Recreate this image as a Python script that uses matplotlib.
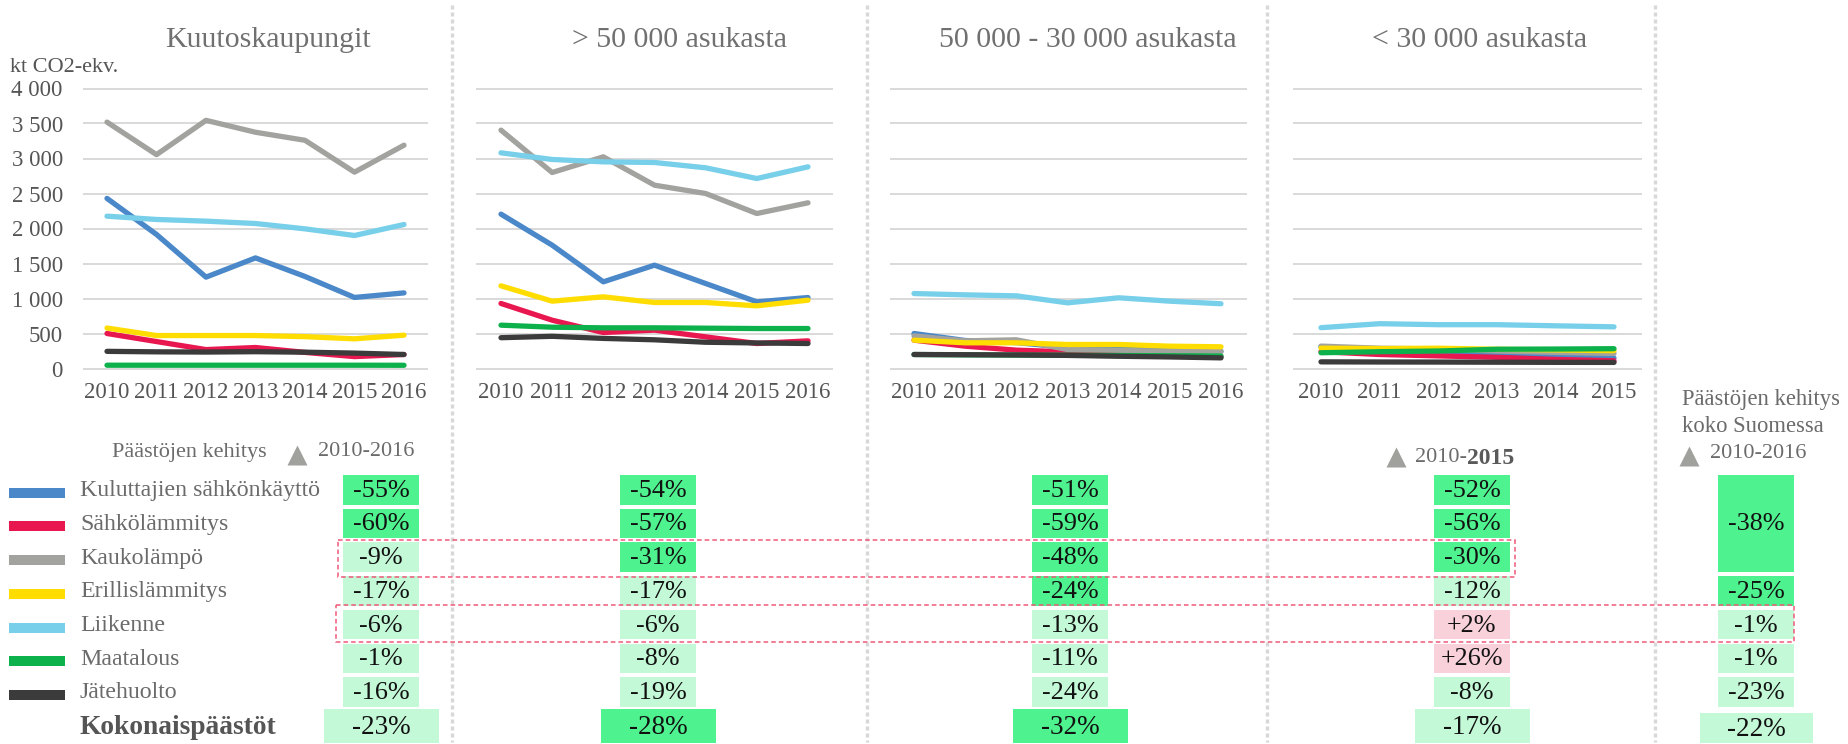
import numpy as np
import matplotlib
matplotlib.use("Agg")
import matplotlib.pyplot as plt
from matplotlib.patches import Rectangle

# ---------------- data ----------------
years_a = [2010, 2011, 2012, 2013, 2014, 2015, 2016]
years_b = [2010, 2011, 2012, 2013, 2014, 2015]

series = ["Kuluttajien sähkönkäyttö", "Sähkölämmitys", "Kaukolämpö",
          "Erillislämmitys", "Liikenne", "Maatalous", "Jätehuolto"]
total_label = "Kokonaispäästöt"

panel_titles = ["Kuutoskaupungit", "> 50 000 asukasta",
                "50 000 - 30 000 asukasta", "< 30 000 asukasta"]

# kt CO2-ekv., rows in series order
kuutos = [
    [2430, 1915, 1305, 1580, 1315, 1015, 1080],
    [500, 385, 270, 300, 230, 170, 200],
    [3520, 3055, 3545, 3375, 3260, 2805, 3190],
    [578, 471, 471, 471, 455, 424, 476],
    [2176, 2129, 2105, 2071, 1995, 1900, 2057],
    [47, 47, 47, 47, 47, 47, 46],
    [245, 238, 235, 240, 233, 220, 200],
]
over50k = [
    [2205, 1762, 1238, 1476, 1214, 952, 1014],
    [929, 690, 514, 548, 452, 357, 395],
    [3405, 2800, 3024, 2619, 2500, 2214, 2367],
    [1181, 962, 1024, 943, 943, 895, 976],
    [3081, 2986, 2952, 2943, 2867, 2714, 2881],
    [619, 590, 581, 581, 576, 571, 571],
    [440, 460, 430, 410, 375, 365, 357],
]
from30to50k = [
    [500, 400, 370, 300, 280, 260, 245],
    [405, 319, 262, 238, 233, 200, 170],
    [466, 395, 410, 271, 260, 245, 242],
    [405, 367, 367, 343, 343, 319, 310],
    [1071, 1052, 1038, 938, 1010, 962, 925],
    [200, 195, 192, 190, 185, 182, 178],
    [200, 197, 193, 187, 175, 165, 152],
]
under30k = [
    [310, 260, 230, 210, 180, 150],
    [240, 200, 180, 160, 130, 110],
    [320, 290, 280, 250, 230, 215],
    [290, 285, 290, 275, 265, 255],
    [583, 640, 626, 626, 610, 595],
    [225, 240, 250, 275, 278, 283],
    [95, 93, 92, 90, 88, 87],
]

# change tables (rows: series..., total); shade d=strong, l=light, p=increase
pct_kuutos = ["-55%", "-60%", "-9%", "-17%", "-6%", "-1%", "-16%", "-23%"]
shade_kuutos = ["d", "d", "l", "l", "l", "l", "l", "l"]
pct_over50k = ["-54%", "-57%", "-31%", "-17%", "-6%", "-8%", "-19%", "-28%"]
shade_over50k = ["d", "d", "d", "l", "l", "l", "l", "d"]
pct_30to50k = ["-51%", "-59%", "-48%", "-24%", "-13%", "-11%", "-24%", "-32%"]
shade_30to50k = ["d", "d", "d", "d", "l", "l", "l", "d"]
pct_under30k = ["-52%", "-56%", "-30%", "-12%", "+2%", "+26%", "-8%", "-17%"]
shade_under30k = ["d", "d", "d", "l", "p", "p", "l", "l"]
# whole Finland: first value covers the three first rows
pct_finland = ["-38%", "-25%", "-1%", "-1%", "-23%", "-22%"]
span_finland = [3, 1, 1, 1, 1, 1]
shade_finland = ["d", "d", "l", "l", "l", "l"]

# ---------------- style ----------------
colors = ["#4a88c9", "#e9174f", "#a2a29e", "#ffdd00", "#77cfe9", "#0db14b", "#3b3b3b"]
shade_col = {"d": "#4ef28e", "l": "#c4f9d8", "p": "#f9d1db"}
FONT = ["Liberation Serif", "DejaVu Serif"]
plt.rcParams["font.family"] = FONT
TXT = "#6b6b6b"
PCT_FS, TOT_FS = 18.8, 19.5

W, H = 1849, 744
fig = plt.figure(figsize=(W / 100, H / 100), dpi=100)

ov = fig.add_axes([0, 0, 1, 1], zorder=0)
ov.set_xlim(0, W)
ov.set_ylim(H, 0)
ov.axis("off")


def px_axes(x0, x1, ytop, ybot):
    return fig.add_axes([x0 / W, 1 - ybot / H, (x1 - x0) / W, (ybot - ytop) / H], zorder=2)


# (axes left, axes right, first point x, last point x)
layout = [(83, 428, 107, 404), (476, 833, 501, 808),
          (890, 1247, 914, 1221), (1293, 1642, 1321, 1614)]
title_x = [268, 680, 1088, 1480]
datasets = [(years_a, kuutos), (years_a, over50k), (years_a, from30to50k), (years_b, under30k)]

Y_TOP, Y_BOT = 88.5, 368.5
for i, ((x0, x1, f, l), (yrs, vals)) in enumerate(zip(layout, datasets)):
    ax = px_axes(x0, x1, Y_TOP, Y_BOT)
    ax.patch.set_alpha(0)
    n = len(yrs) - 1
    sp = (l - f) / n
    ax.set_xlim((x0 - f) / sp, n + (x1 - l) / sp)
    ax.set_ylim(0, 4000)
    for s in ax.spines.values():
        s.set_visible(False)
    grid = np.arange(0, 4001, 500)
    ax.hlines(grid, *ax.get_xlim(), color="#d9d9d9", lw=1.4, zorder=0, clip_on=False)
    for k in range(len(series)):
        ax.plot(range(len(yrs)), vals[k], color=colors[k], lw=3.8,
                solid_capstyle="round", solid_joinstyle="round", zorder=2 + k, clip_on=False)
    ax.set_xticks(range(len(yrs)), [str(y) for y in yrs])
    ax.tick_params(axis="x", length=0, pad=10, labelsize=16.5, labelcolor="#555555")
    if i == 0:
        ax.set_yticks(grid, [f"{v:,}".replace(",", " ") for v in grid])
        ax.tick_params(axis="y", length=0, pad=14.5, labelsize=16.5, labelcolor="#555555")
    else:
        ax.set_yticks([])
    ov.text(title_x[i], 40, panel_titles[i], ha="center", va="center",
            fontsize=21.5, color="#707070")

ov.text(10, 67, "kt CO2-ekv.", ha="left", va="center", fontsize=16, color="#555555")

# separators
for x in [452, 867, 1267, 1655]:
    ov.plot([x, x], [5, 742], color="#d8d8d8", lw=2.4, linestyle=(0, (1.2, 0.9)),
            dash_capstyle="butt")

# headers
TRI = "#a0a09c"
ov.text(112, 452, "Päästöjen kehitys", ha="left", va="center", fontsize=16, color=TXT)
ov.plot(297, 455, marker="^", ms=15, color=TRI, mec="none")
ov.text(318, 452, "2010-2016", ha="left", va="center", fontsize=16, color=TXT)

ov.plot(1396, 457, marker="^", ms=15, color=TRI, mec="none")
t = ov.text(1415, 458, "2010-", ha="left", va="center", fontsize=16, color=TXT)
ov.annotate("2015", xycoords=t, xy=(1, 0.5), va="center", ha="left",
            fontsize=17, color="#5a5a5a", fontweight="bold")

ov.text(1682, 399, "Päästöjen kehitys", ha="left", va="center", fontsize=16.3, color=TXT)
ov.text(1682, 427, "koko Suomessa", ha="left", va="center", fontsize=16.3, color=TXT)
ov.plot(1689, 456, marker="^", ms=15, color=TRI, mec="none")
ov.text(1710, 453, "2010-2016", ha="left", va="center", fontsize=16, color=TXT)

# legend rows
ROW0, ROWH, BOXH = 475, 33.7, 29.5
for k, name in enumerate(series):
    yc = ROW0 + k * ROWH + BOXH / 2
    ov.add_patch(Rectangle((9, yc - 2), 56, 10, color=colors[k], lw=0))
    ov.text(80, yc + 1, name, ha="left", va="center", fontsize=17.2, color=TXT)
ov.text(80, 727, total_label, ha="left", va="center", fontsize=19.8,
        color="#555555", fontweight="bold")

# tables
TOT_TOP, TOT_H = 709, 34
BW, TW = 76, 115
tables = [(381, pct_kuutos, shade_kuutos), (658, pct_over50k, shade_over50k),
          (1070, pct_30to50k, shade_30to50k), (1472, pct_under30k, shade_under30k)]
for cx, pcts, shades in tables:
    for k in range(7):
        top = ROW0 + k * ROWH
        ov.add_patch(Rectangle((cx - BW / 2, top), BW, BOXH, color=shade_col[shades[k]], lw=0))
        ov.text(cx, top + BOXH / 2 + 1, pcts[k], ha="center", va="center",
                fontsize=PCT_FS, color="#111111")
    ov.add_patch(Rectangle((cx - TW / 2, TOT_TOP), TW, TOT_H, color=shade_col[shades[7]], lw=0))
    ov.text(cx, TOT_TOP + TOT_H / 2 + 1, pcts[7], ha="center", va="center",
            fontsize=TOT_FS, color="#111111")

cx = 1756
row = 0
for v, span, sh in zip(pct_finland[:-1], span_finland[:-1], shade_finland[:-1]):
    top = ROW0 + row * ROWH
    h = (span - 1) * ROWH + BOXH
    ov.add_patch(Rectangle((cx - BW / 2, top), BW, h, color=shade_col[sh], lw=0))
    ov.text(cx, top + h / 2 + 1, v, ha="center", va="center", fontsize=PCT_FS, color="#111111")
    row += span
ov.add_patch(Rectangle((cx - 113 / 2, 713), 113, 30, color=shade_col[shade_finland[-1]], lw=0))
ov.text(cx, 729, pct_finland[-1], ha="center", va="center", fontsize=TOT_FS, color="#111111")

# highlight boxes
for (x0, y0, x1, y1) in [(338, 540, 1515, 577), (336, 605, 1794, 642)]:
    ov.add_patch(Rectangle((x0, y0), x1 - x0, y1 - y0, fill=False, ec="#f0587a",
                           lw=1.1, linestyle=(0, (3, 2)), zorder=5))

fig.savefig("out.png", dpi=100)
